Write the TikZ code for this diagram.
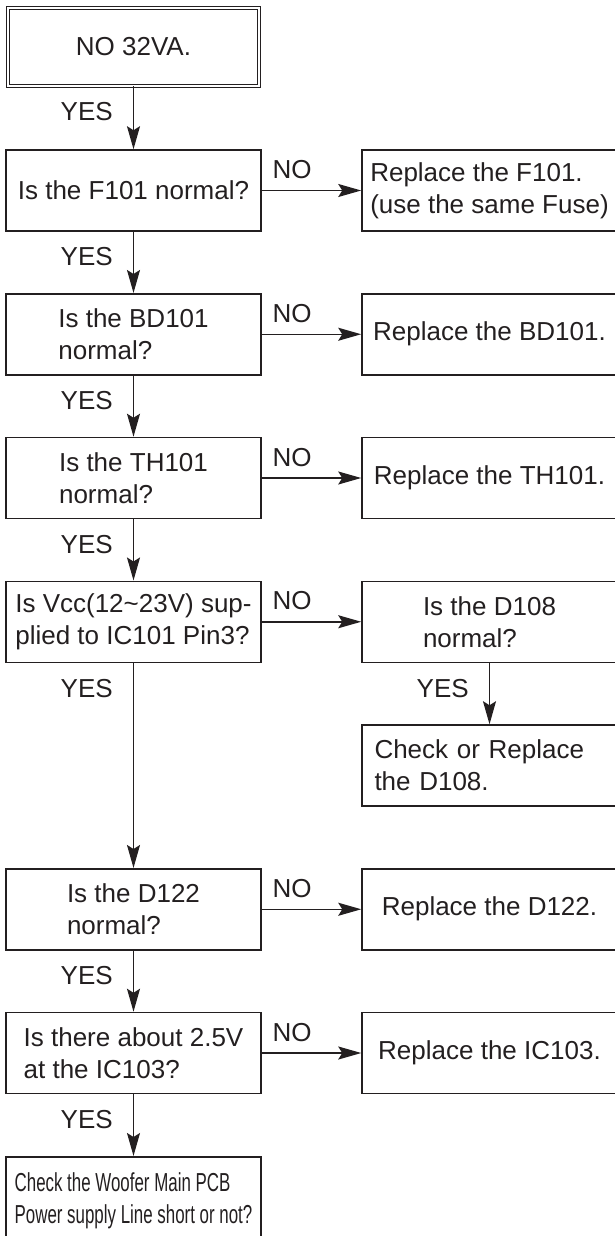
\documentclass[tikz,border=0pt]{standalone}
\usepackage{fontspec}
\setmainfont{Liberation Sans}
\newfontfamily\narrowfont[FakeStretch=0.65]{Liberation Sans}
\usetikzlibrary{arrows.meta}
\definecolor{ink}{RGB}{35,31,32}
\tikzset{%
  lab/.style={text=ink, inner sep=0pt, font=\fontsize{13}{16}\selectfont},
  box/.style={lab, draw=ink, line width=.75pt, minimum width=127.5pt,
    minimum height=40.5pt, align=left},
  startbox/.style={box, double, line width=.5pt, double distance=1pt,
    minimum width=125.5pt, minimum height=39pt},
  woofer/.style={anchor=north, inner ysep=8pt, text depth=20pt,
    font=\narrowfont\fontsize{13}{16}\selectfont},
  flow/.style={draw=ink, line width=.75pt,
    -{Stealth[length=11.5pt,width=6.5pt,inset=2pt]}},
  yeslabel/.style={lab, pos=0, anchor=base east, xshift=-10pt, yshift=-17pt},
  nolabel/.style={lab, pos=0, anchor=base west, xshift=5pt, yshift=6pt},
}
\newcommand{\FlowGrid}{
  \pgfmathsetmacro{\colL}{133.5}% x of left column
  \pgfmathsetmacro{\colR}{489.5}% x of right column
  \pgfmathsetmacro{\pitch}{143.75}% distance between rows
  \coordinate (S) at (\colL,47);
  \foreach \k in {1,...,7} {
    \pgfmathsetmacro{\rowY}{190.5+\pitch*(\k-1)}% y of row k
    \coordinate (L\k) at (\colL,\rowY);
    \coordinate (R\k) at (\colR,\rowY);
  }
  \coordinate (W) at (\colL,1156);% top of last box
}

\begin{document}
\begin{tikzpicture}[x=.5pt,y=-.5pt]
  \FlowGrid% makes coordinates available
  \useasboundingbox (0,0) rectangle (615,1236);
  \node[startbox] (start) at (S) {NO 32VA.};
  \node[box] (f101) at (L1) {Is the F101 normal?};
  \node[box] (f101r) at (R1) {Replace the F101.\\(use the same Fuse)};
  \node[box] (bd101) at (L2) {Is the BD101\\normal?};
  \node[box] (bd101r) at (R2) {Replace the BD101.};
  \node[box] (th101) at (L3) {Is the TH101\\normal?};
  \node[box] (th101r) at (R3) {Replace the TH101.};
  \node[box] (vcc) at (L4) {Is Vcc(12\textasciitilde23V) sup-\\plied to IC101 Pin3?};
  \node[box] (d108) at (R4) {Is the D108\\normal?};
  \node[box, text width=115pt] (d108r) at (R5) {Check or Replace\\the D108.};
  \node[box] (d122) at (L6) {Is the D122\\normal?};
  \node[box] (d122r) at (R6) {Replace the D122.};
  \node[box] (ic103) at (L7) {Is there about 2.5V\\at the IC103?};
  \node[box] (ic103r) at (R7) {Replace the IC103.};
  \node[box, woofer] (pcb) at (W) {Check the Woofer Main PCB\\Power supply Line short or not?};
  % YES: down the columns
  \foreach \src/\dst in {start/f101, f101/bd101, bd101/th101, th101/vcc,
      vcc/d122, d122/ic103, ic103/pcb, d108/d108r}
    \draw[flow] (\src) -- node[yeslabel] {YES} (\dst);
  % NO: across to the right
  \foreach \src/\dst in {f101/f101r, bd101/bd101r, th101/th101r,
      vcc/d108, d122/d122r, ic103/ic103r}
    \draw[flow] (\src) -- node[nolabel] {NO} (\dst);
\end{tikzpicture}
\end{document}
